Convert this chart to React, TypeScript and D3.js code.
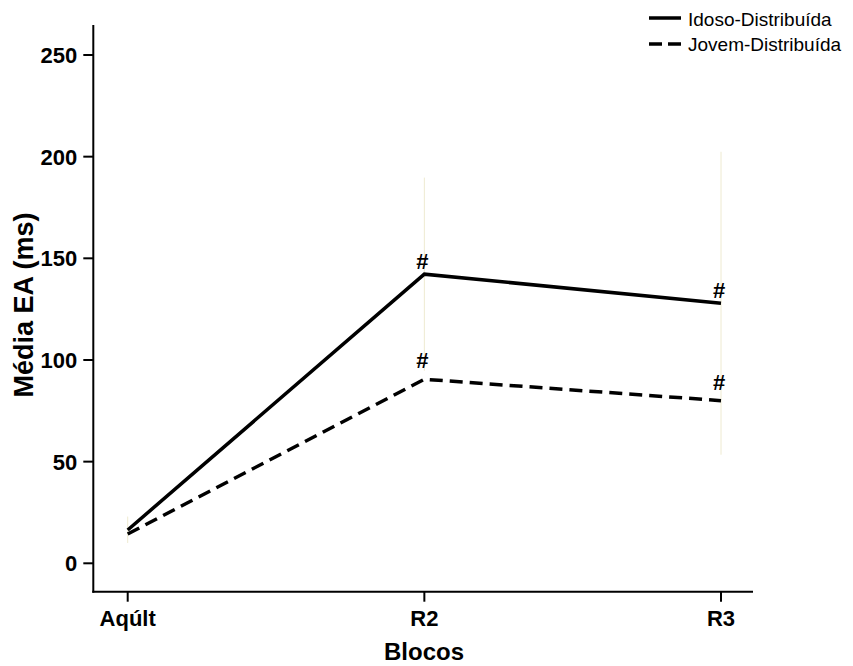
import React from "react";
import * as d3 from "d3";

const categories = ["Aqúlt", "R2", "R3"];
const idosoValues = [16.4, 142.2, 127.9];
const jovemValues = [14.4, 90.5, 80.0];
const idosoErrLow = [10, 94.7, 53.4];
const idosoErrHigh = [23, 189.7, 202.4];
const yTicks = [0, 50, 100, 150, 200, 250];
const seriesNames = ["Idoso-Distribuída", "Jovem-Distribuída"];

const W = 853;
const H = 666;

export default function App() {
  const x = d3.scalePoint<string>().domain(categories).range([127.7, 721]);
  const y = d3.scaleLinear().domain([0, 250]).range([563.3, 55]);
  const axisX = 93.3;
  const axisY = 591.7;
  const line = d3
    .line<number>()
    .x((_, i) => x(categories[i]) as number)
    .y((d) => y(d));
  const font = "Arial, 'Liberation Sans', sans-serif";

  return (
    <svg
      width={W}
      height={H}
      style={{ position: "absolute", left: 0, top: 0, background: "#fff" }}
      fontFamily={font}
    >
      <rect width={W} height={H} fill="#fff" />
      {categories.map((c, i) => (
        <line
          key={"eb" + i}
          x1={x(c)}
          x2={x(c)}
          y1={y(idosoErrLow[i])}
          y2={y(idosoErrHigh[i])}
          stroke="#eeead0"
          strokeWidth={1}
        />
      ))}
      <line x1={axisX} x2={axisX} y1={25} y2={axisY + 1} stroke="#000" strokeWidth={2} />
      <line x1={axisX - 1} x2={753} y1={axisY} y2={axisY} stroke="#000" strokeWidth={2} />
      {yTicks.map((t) => (
        <g key={"yt" + t}>
          <line x1={axisX - 10} x2={axisX} y1={y(t)} y2={y(t)} stroke="#000" strokeWidth={2} />
          <text
            x={axisX - 16}
            y={y(t)}
            dy="0.36em"
            textAnchor="end"
            fontSize={22}
            fontWeight="bold"
          >
            {t}
          </text>
        </g>
      ))}
      {categories.map((c) => (
        <g key={"xt" + c}>
          <line x1={x(c)} x2={x(c)} y1={axisY} y2={axisY + 10} stroke="#000" strokeWidth={2} />
          <text x={x(c)} y={626} textAnchor="middle" fontSize={22} fontWeight="bold">
            {c}
          </text>
        </g>
      ))}
      <text x={424} y={660} textAnchor="middle" fontSize={24} fontWeight="bold">
        Blocos
      </text>
      <text
        transform={`translate(33,305) rotate(-90)`}
        textAnchor="middle"
        fontSize={27}
        fontWeight="bold"
      >
        Média EA (ms)
      </text>
      <path d={line(idosoValues) || ""} fill="none" stroke="#000" strokeWidth={3.5} />
      <path
        d={line(jovemValues) || ""}
        fill="none"
        stroke="#000"
        strokeWidth={3.5}
        strokeDasharray="13,7"
      />
      {[1, 2].map((i) => (
        <g key={"h" + i}>
          <text x={(x(categories[i]) as number) - 2} y={y(idosoValues[i]) - 5} textAnchor="middle" fontSize={22} fontWeight="bold">
            #
          </text>
          <text x={(x(categories[i]) as number) - 2} y={y(jovemValues[i]) - 11} textAnchor="middle" fontSize={22} fontWeight="bold">
            #
          </text>
        </g>
      ))}
      <line x1={649} x2={681} y1={18} y2={18} stroke="#000" strokeWidth={3.5} />
      <text x={688} y={26} fontSize={19}>
        {seriesNames[0]}
      </text>
      <line x1={649} x2={681} y1={44} y2={44} stroke="#000" strokeWidth={3.5} strokeDasharray="13,6" />
      <text x={688} y={51} fontSize={19}>
        {seriesNames[1]}
      </text>
    </svg>
  );
}
